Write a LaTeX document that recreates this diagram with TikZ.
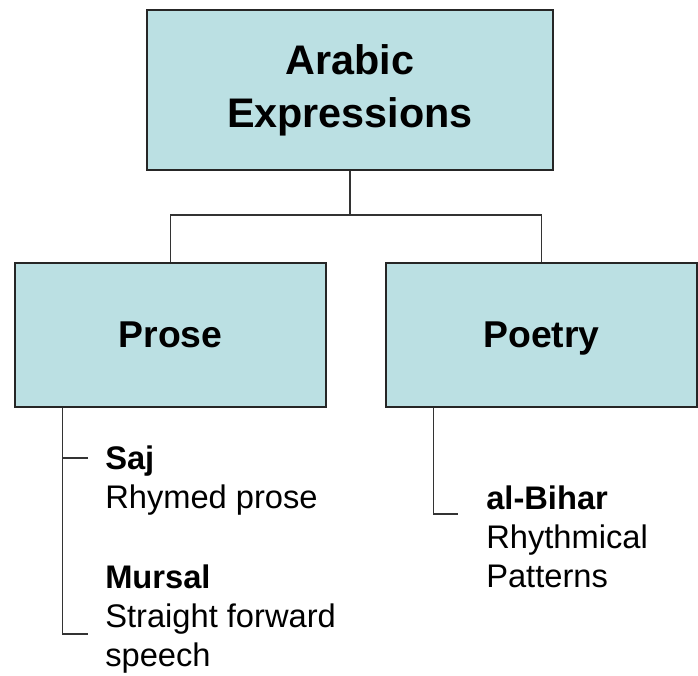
\documentclass[tikz,border=0pt]{standalone}
\usepackage{fontspec}
\setmainfont{Liberation Sans}
\usetikzlibrary{positioning}
\definecolor{boxblue}{HTML}{BBE0E3}
\definecolor{linegray}{HTML}{333333}

\begin{document}
\begin{tikzpicture}[x=0.75pt, y=-0.75pt,
  box/.style={rectangle, draw=black!85, fill=boxblue, line width=1.1pt, align=center, font=\fontsize{28}{40}\selectfont\bfseries},
  item/.style={anchor=north west, inner sep=0pt, align=left, font=\fontsize{24.5}{29.25}\selectfont},
  link/.style={draw=linegray, line width=1.1pt}
]
  \useasboundingbox (0,0) rectangle (698,675);

  % Boxes
  \node[box, minimum width=304.5pt, minimum height=120pt, font=\fontsize{31}{40}\selectfont\bfseries] (arabic) at (350,90) {Arabic\\Expressions};
  \node[box, minimum width=233.25pt, minimum height=108pt, text depth=0pt] (prose) at (170.5,335) {Prose};
  \node[box, minimum width=233.25pt, minimum height=108pt, text depth=0pt] (poetry) at (541.5,335) {Poetry};

  % Tree lines
  \coordinate (split) at (350,215);
  \draw[link] (arabic.south) -- (split);
  \draw[link] (prose.north) |- (split) -| (poetry.north);

  % Sub items
  \node[item] (saj) at (105,446) {\textbf{Saj}\\Rhymed prose};
  \node[item] (mursal) at (105,565) {\textbf{Mursal}\\Straight forward\\speech};
  \node[item] (bihar) at (486,486) {\textbf{al-Bihar}\\Rhythmical\\Patterns};

  % Brackets
  \coordinate (sajtick) at (88,458);
  \coordinate (mursaltick) at (88,634);
  \coordinate (bihartick) at (458,514);
  \draw[link] (prose.south west) ++(48,0) |- (mursaltick);
  \draw[link] (sajtick) -- ++(-25,0);
  \draw[link] (poetry.south west) ++(48,0) |- (bihartick);
\end{tikzpicture}
\end{document}
